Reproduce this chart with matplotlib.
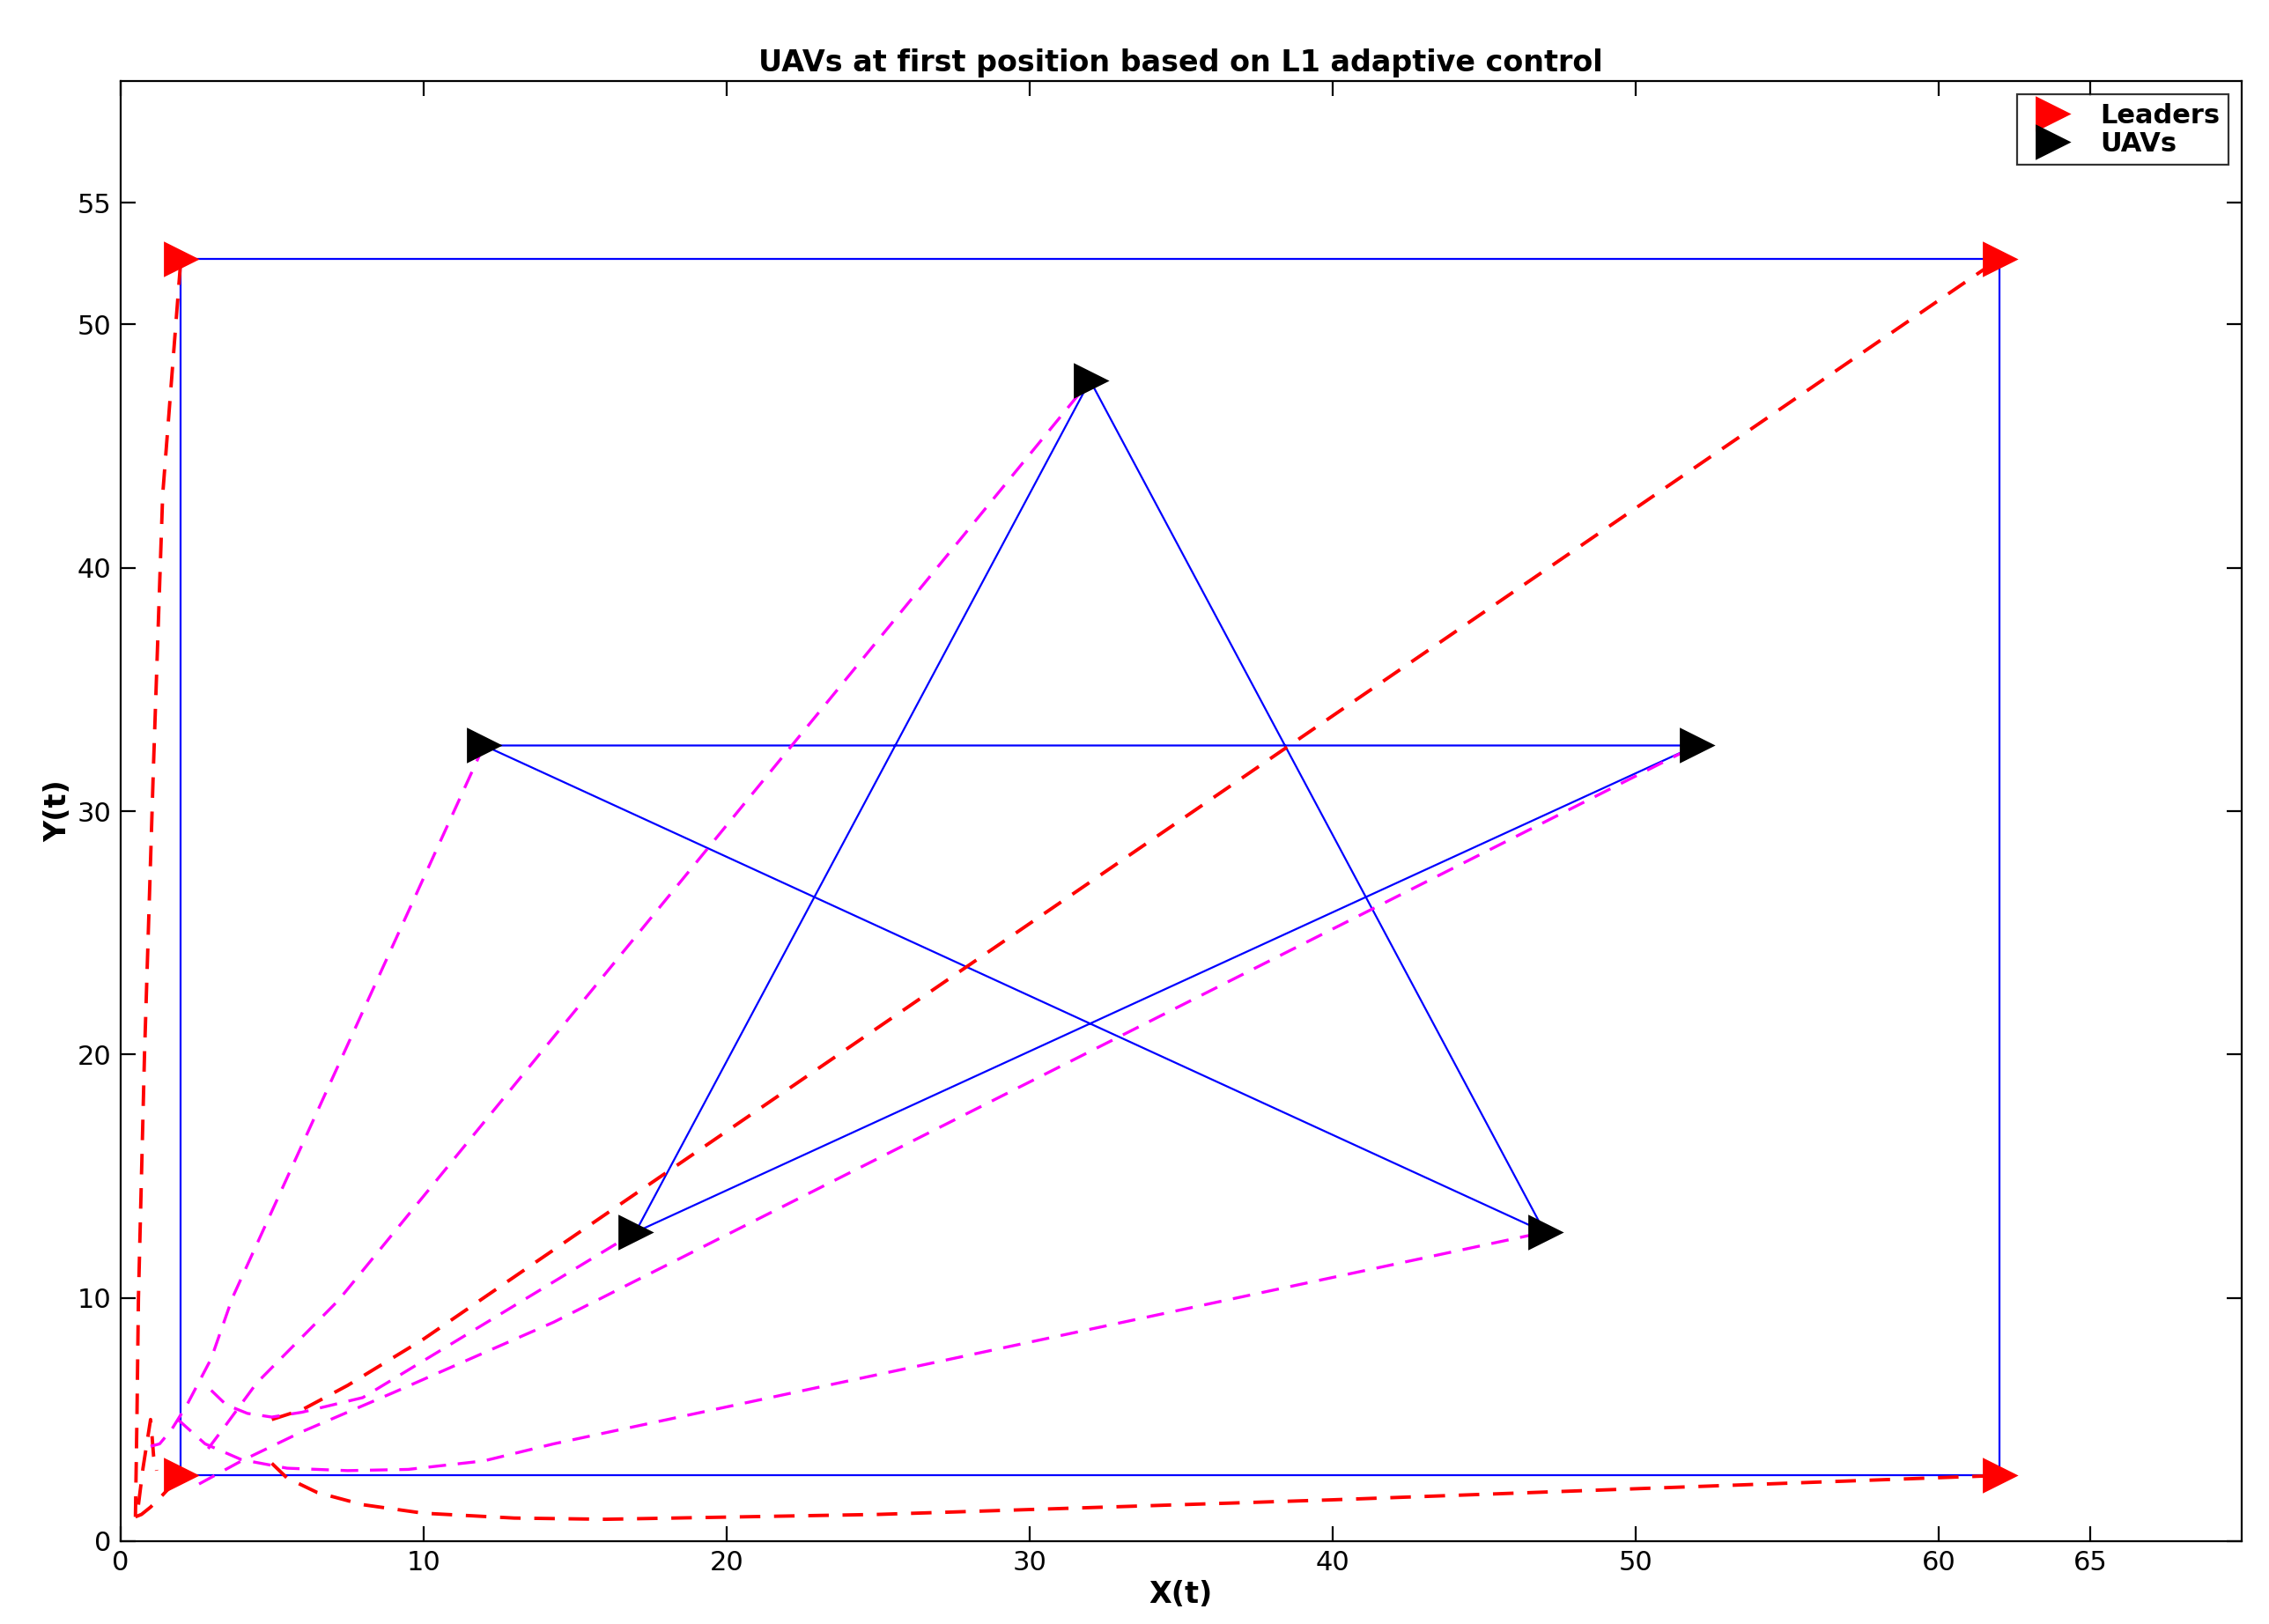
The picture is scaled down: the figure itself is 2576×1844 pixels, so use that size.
import matplotlib
matplotlib.use("Agg")
import matplotlib.pyplot as plt

leaders_x = [2, 2, 62, 62]
leaders_y = [2.7, 52.7, 52.7, 2.7]
uav_x = [32, 12, 52, 17, 47]
uav_y = [47.7, 32.7, 32.7, 12.7, 12.7]
rect_x = [2, 2, 62, 62, 2]
rect_y = [2.7, 52.7, 52.7, 2.7, 2.7]
star_x = [32, 17, 52, 12, 47, 32]
star_y = [47.7, 12.7, 32.7, 32.7, 12.7, 47.7]

# leader trajectories (red)
red_paths = [
    ([0.5, 0.55, 0.6, 0.8, 1.1, 1.4, 2.0], [1.0, 5.0, 10.0, 20.0, 32.0, 43.0, 52.7]),
    ([0.5, 0.7, 1.0, 1.4, 2.0], [1.0, 1.1, 1.4, 1.9, 2.7]),
    ([0.6, 0.75, 0.9, 1.0, 1.05, 1.1, 1.2], [1.5, 3.0, 4.2, 5.0, 4.3, 3.5, 2.9]),
    ([5.0, 5.5, 6.5, 8.0, 10.0, 13.0, 16.0, 25.0, 40.0, 62.0], [3.2, 2.6, 2.0, 1.5, 1.15, 0.95, 0.9, 1.1, 1.7, 2.7]),
    ([5.0, 6.0, 7.5, 10.0, 62.0], [5.0, 5.4, 6.4, 8.3, 52.7]),
]
# UAV trajectories (magenta)
mag_paths = [
    ([2.9, 3.5, 4.5, 7.2, 32.0], [3.8, 4.8, 6.5, 9.9, 47.7]),
    ([1.0, 1.3, 1.7, 2.2, 3.0, 3.7, 12.0], [3.9, 4.0, 4.6, 5.6, 7.5, 10.0, 32.7]),
    ([3.0, 3.5, 4.2, 5.0, 6.0, 8.0, 17.0], [6.2, 5.6, 5.25, 5.1, 5.3, 5.9, 12.7]),
    ([2.6, 4.0, 6.0, 9.0, 14.3, 52.0], [2.35, 3.3, 4.5, 6.1, 9.0, 32.7]),
    ([1.9, 2.8, 4.0, 5.5, 7.5, 9.5, 12.0, 14.3, 47.0], [5.0, 4.0, 3.35, 3.0, 2.9, 2.95, 3.3, 4.0, 12.7]),
]

fig = plt.figure(figsize=(12.88, 9.22), dpi=200)
ax = fig.add_axes([0.053, 0.051, 0.935, 0.899])
ax.plot(rect_x, rect_y, color='blue', lw=0.8)
ax.plot(star_x, star_y, color='blue', lw=0.8)
for px, py in red_paths:
    ax.plot(px, py, color='red', ls=(0, (6, 4)), lw=1.4)
for px, py in mag_paths:
    ax.plot(px, py, color='magenta', ls=(0, (6, 4)), lw=1.2)
ax.plot(leaders_x, leaders_y, '>', color='red', ms=13, ls='none', label='Leaders', zorder=5)
ax.plot(uav_x, uav_y, '>', color='black', ms=13, ls='none', label='UAVs', zorder=5)

ax.set_xlim(0, 70)
ax.set_ylim(0, 60)
ax.set_xticks([0, 10, 20, 30, 40, 50, 60, 65])
ax.set_yticks([0, 10, 20, 30, 40, 50, 55])
ax.tick_params(direction='in', top=True, right=True, labelsize=11, length=6)
for s in ax.spines.values():
    s.set_linewidth(0.8)
ax.set_xlabel('X(t)', fontsize=12, fontweight='bold', labelpad=2)
ax.set_ylabel('Y(t)', fontsize=12, fontweight='bold', labelpad=2)
ax.set_title('UAVs at first position based on L1 adaptive control', fontsize=12, fontweight='bold', pad=4)
leg = ax.legend(loc='upper right', prop={'weight': 'bold', 'size': 11}, fancybox=False,
                edgecolor='black', handletextpad=0.8, borderpad=0.3, labelspacing=0.1)
leg.get_frame().set_linewidth(0.8)
fig.savefig('out.png', dpi=200)
